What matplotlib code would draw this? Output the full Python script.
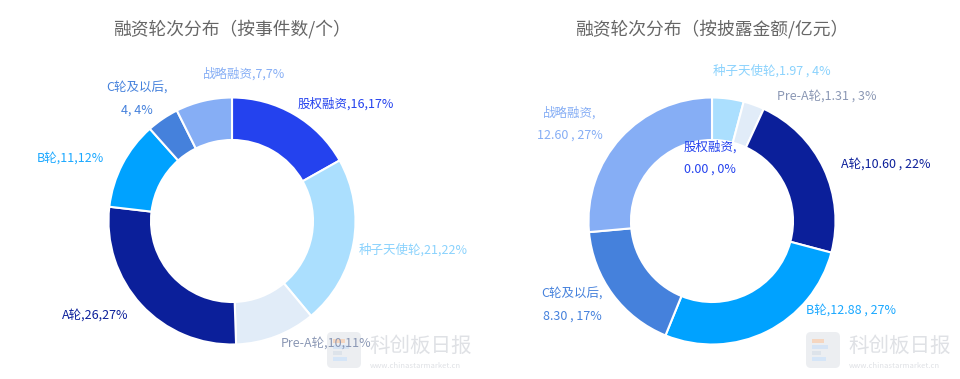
import numpy as np
import matplotlib
matplotlib.use("Agg")
import matplotlib.pyplot as plt
from matplotlib.patches import FancyBboxPatch, Rectangle

plt.rcParams['font.family'] = ['Noto Sans CJK SC', 'DejaVu Sans']

# slice order: clockwise from 12 o'clock
ROUNDS = ["股权融资", "种子天使轮", "Pre-A轮", "A轮", "B轮", "C轮及以后", "战略融资"]
COLORS = ["#2442ee", "#abdffe", "#e1ecf8", "#0b1f9a", "#00a2ff", "#4581dc", "#86aef5"]
TEXT_COLORS = ["#2442ee", "#8ad2fd", "#8a97b4", "#0b1f9a", "#1aa8ff", "#4581dc", "#86aef5"]

COUNT_TITLE = "融资轮次分布（按事件数/个）"
COUNTS = [16, 21, 10, 26, 11, 4, 7]
COUNT_PCT = [17, 22, 11, 27, 12, 4, 7]
COUNT_LABELS = ["股权融资,16,17%", "种子天使轮,21,22%", "Pre-A轮,10,11%", "A轮,26,27%",
                "B轮,11,12%", "C轮及以后,\n4, 4%", "战略融资,7,7%"]

AMOUNT_TITLE = "融资轮次分布（按披露金额/亿元）"
AMOUNTS = [0.00, 1.97, 1.31, 10.60, 12.88, 8.30, 12.60]
AMOUNT_PCT = [0, 4, 3, 22, 27, 17, 27]
AMOUNT_LABELS = ["股权融资,\n0.00 , 0%", "种子天使轮,1.97 , 4%", "Pre-A轮,1.31 , 3%",
                 "A轮,10.60 , 22%", "B轮,12.88 , 27%", "C轮及以后,\n8.30 , 17%",
                 "战略融资,\n12.60 , 27%"]

W, H = 960, 379
R_OUT, R_IN = 123.5, 81
# label nudges in pixels (dx right, dy down) relative to the default anchor
COUNT_NUDGE = [(-3, 0), (-7, 4), (0, -5), (-4, 2), (-7, 0), (12, -9), (2, -15)]
COUNT_HA = [None, None, None, None, None, None, "left"]
AMOUNT_NUDGE = [(-2, 73), (-17, -15), (19, 3), (6, 1), (33, -32), (0, 3), (-9, -5)]
AMOUNT_HA = [None] * 7

fig = plt.figure(figsize=(W / 100, H / 100), dpi=100)
ax = fig.add_axes([0, 0, 1, 1])


def donut(cx, cy, values, labels, nudges, aligns, title):
    cy_d = H - cy
    ax.pie(values, colors=COLORS, startangle=90, counterclock=False,
           center=(cx, cy_d), radius=R_OUT, frame=True,
           wedgeprops=dict(width=R_OUT - R_IN, edgecolor="white", linewidth=1.5))
    total = float(sum(values))
    start = 0.0
    for v, lab, col, (dx, dy), ha in zip(values, labels, TEXT_COLORS, nudges, aligns):
        span = 360.0 * v / total
        mid = np.radians(start + span / 2)
        start += span
        lx = cx + 1.1 * R_OUT * np.sin(mid)
        ly = cy - 1.1 * R_OUT * np.cos(mid)
        if ha is None:
            if v == 0:
                ha = "center"
            else:
                ha = "left" if np.sin(mid) > 0 else "right"
        ax.text(lx + dx, H - (ly + dy), lab, color=col, fontsize=9, ha=ha,
                va="center", multialignment="center", linespacing=1.9)
    ax.text(cx, H - 29, title, color="#666666", fontsize=12.8, ha="center", va="center")


def watermark(x0):
    ax.add_patch(FancyBboxPatch((x0 + 3, H - 368), 34, 36,
                                boxstyle="round,pad=0,rounding_size=5",
                                fc="#eceef1", ec="none", zorder=0))
    for i, (c, w) in enumerate([("#f5d6c0", 12), ("#d6e4f5", 16), ("#dde3ea", 9), ("#d5e5f7", 14)]):
        ax.add_patch(Rectangle((x0 + 9, H - 343 - i * 6), w, 4, fc=c, ec="none", zorder=0))
    ax.text(x0 + 45, H - 346, "科创板日报", color="#dfe1e5", fontsize=14.8, ha="left",
            va="center", zorder=0)
    ax.text(x0 + 46, H - 366, "www.chinastarmarket.cn", color="#dfe1e5", fontsize=5.5,
            ha="left", va="center", zorder=0)


watermark(324)
watermark(803)
donut(232, 221, COUNTS, COUNT_LABELS, COUNT_NUDGE, COUNT_HA, COUNT_TITLE)
donut(712, 221, AMOUNTS, AMOUNT_LABELS, AMOUNT_NUDGE, AMOUNT_HA, AMOUNT_TITLE)
ax.set_xlim(0, W)
ax.set_ylim(0, H)
ax.set_aspect("auto")
ax.axis("off")

fig.savefig("out.png", dpi=100)
